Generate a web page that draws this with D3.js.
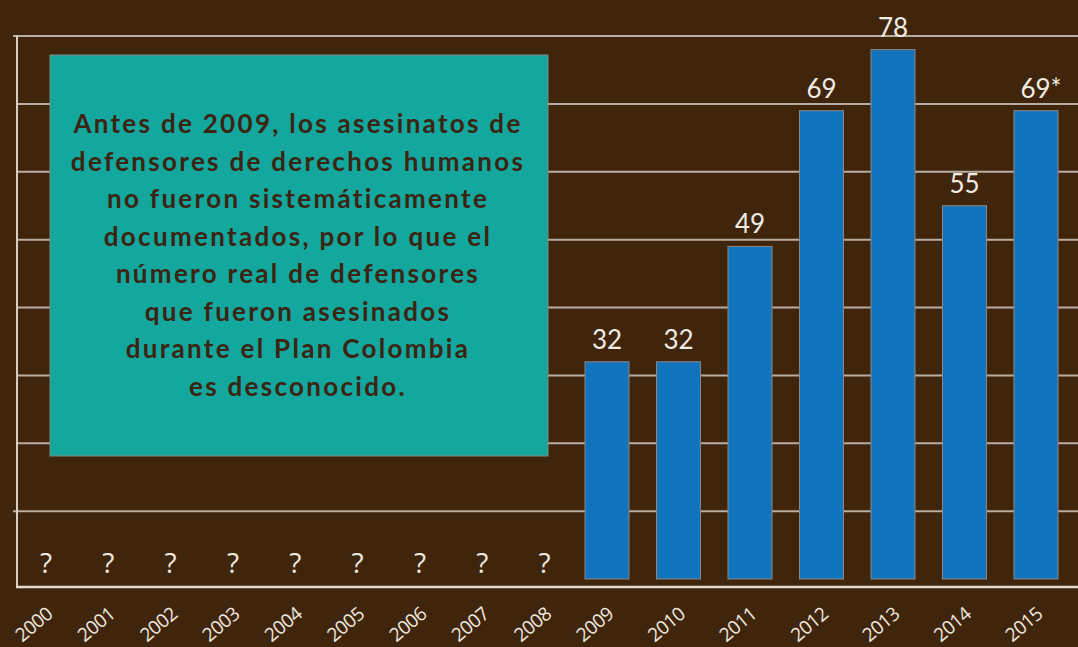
<!DOCTYPE html>
<html>
<head>
<meta charset="utf-8">
<script src="https://cdn.jsdelivr.net/npm/d3@7"></script>
<style>
  body { margin: 0; background: #40250d; }
  svg { display: block; }
</style>
</head>
<body>
<div id="chart"></div>
<script>
// data
var years = [2000, 2001, 2002, 2003, 2004, 2005, 2006, 2007, 2008, 2009, 2010, 2011, 2012, 2013, 2014, 2015];
var unknownYears = [2000, 2001, 2002, 2003, 2004, 2005, 2006, 2007, 2008];
var knownYears = [2009, 2010, 2011, 2012, 2013, 2014, 2015];
var killings = [32, 32, 49, 69, 78, 55, 69];
var killingLabels = ["32", "32", "49", "69", "78", "55", "69*"];
var gridValues = [10, 20, 30, 40, 50, 60, 70, 80];
var noteLines = [
	"Antes de 2009, los asesinatos de",
	"defensores de derechos humanos",
	"no fueron sistemáticamente",
	"documentados, por lo que el",
	"número real de defensores",
	"que fueron asesinados",
	"durante el Plan Colombia",
	"es desconocido."
];

(function () {
	var width = 1078, height = 647;
	var axisLeft = 17;

	var svg = d3.select("#chart").append("svg")
		.attr("width", width)
		.attr("height", height)
		.style("background", "#40250d");

	// scales
	var xScale = d3.scaleLinear()
		.domain([2000, 2009, 2015])
		.range([46, 607, 1036]);

	var yScale = d3.scaleLinear()
		.domain([0, 80])
		.range([579, 36]);

	var baseY = yScale(0) + 8;
	var barW = 44;

	// gridlines
	svg.selectAll(".grid")
		.data(gridValues)
		.enter()
		.append("line")
			.attr("class", "grid")
			.attr("x1", function(d, i) { return (i === 0 || i === gridValues.length - 1) ? axisLeft - 4 : axisLeft; })
			.attr("x2", width)
			.attr("y1", function(d) { return yScale(d); })
			.attr("y2", function(d) { return yScale(d); })
			.attr("stroke", "#b9aca0")
			.attr("stroke-width", 2);

	// left axis and baseline
	svg.append("line")
		.attr("x1", axisLeft).attr("x2", axisLeft)
		.attr("y1", yScale(d3.max(gridValues)) - 1)
		.attr("y2", baseY)
		.attr("stroke", "#d9cdbf")
		.attr("stroke-width", 2);

	svg.append("line")
		.attr("x1", axisLeft - 1).attr("x2", width)
		.attr("y1", baseY).attr("y2", baseY)
		.attr("stroke", "#e6dccf")
		.attr("stroke-width", 2.5);

	// note box
	svg.append("rect")
		.attr("x", 50)
		.attr("y", 55)
		.attr("width", 498)
		.attr("height", 401)
		.attr("fill", "#13a79d")
		.attr("stroke", "#7f8c84")
		.attr("stroke-width", 1);

	svg.selectAll(".note")
		.data(noteLines)
		.enter()
		.append("text")
			.attr("class", "note")
			.attr("x", 298)
			.attr("y", function(d, i) { return 133 + i * 37.5; })
			.attr("text-anchor", "middle")
			.attr("font-family", "Lato, sans-serif")
			.attr("font-weight", "bold")
			.attr("font-size", "26px")
			.attr("letter-spacing", "2.3px")
			.attr("fill", "#3c2412")
			.text(function(d) { return d; });

	// bars
	svg.selectAll(".bar")
		.data(killings)
		.enter()
		.append("rect")
			.attr("class", "bar")
			.attr("x", function(d, i) { return xScale(knownYears[i]) - barW / 2; })
			.attr("y", function(d) { return yScale(d); })
			.attr("width", barW)
			.attr("height", function(d) { return yScale(0) - yScale(d); })
			.attr("fill", "#1174bd")
			.attr("stroke", "#8d8680")
			.attr("stroke-width", 1);

	svg.selectAll(".barlabel")
		.data(killings)
		.enter()
		.append("text")
			.attr("class", "barlabel")
			.attr("x", function(d, i) { return xScale(knownYears[i]) + (killingLabels[i].length > 2 ? 5 : 0); })
			.attr("y", function(d) { return yScale(d) - 13; })
			.attr("text-anchor", "middle")
			.attr("font-family", "Lato, sans-serif")
			.attr("font-size", "26px")
			.attr("fill", "#f1ebe2")
			.text(function(d, i) { return killingLabels[i]; });

	// unknown years
	svg.selectAll(".unknown")
		.data(unknownYears)
		.enter()
		.append("text")
			.attr("class", "unknown")
			.attr("x", function(d) { return xScale(d); })
			.attr("y", 573)
			.attr("text-anchor", "middle")
			.attr("font-family", "'Open Sans', sans-serif")
			.attr("font-size", "28px")
			.attr("fill", "#eee8df")
			.text("?");

	// year labels
	svg.selectAll(".year")
		.data(years)
		.enter()
		.append("text")
			.attr("class", "year")
			.attr("transform", function(d) { return "translate(" + (xScale(d) + 8) + ",616) rotate(-40)"; })
			.attr("text-anchor", "end")
			.attr("font-family", "'Open Sans', sans-serif")
			.attr("font-size", "19px")
			.attr("letter-spacing", "-0.5px")
			.attr("fill", "#eee8df")
			.text(function(d) { return d; });
})();
</script>
</body>
</html>
